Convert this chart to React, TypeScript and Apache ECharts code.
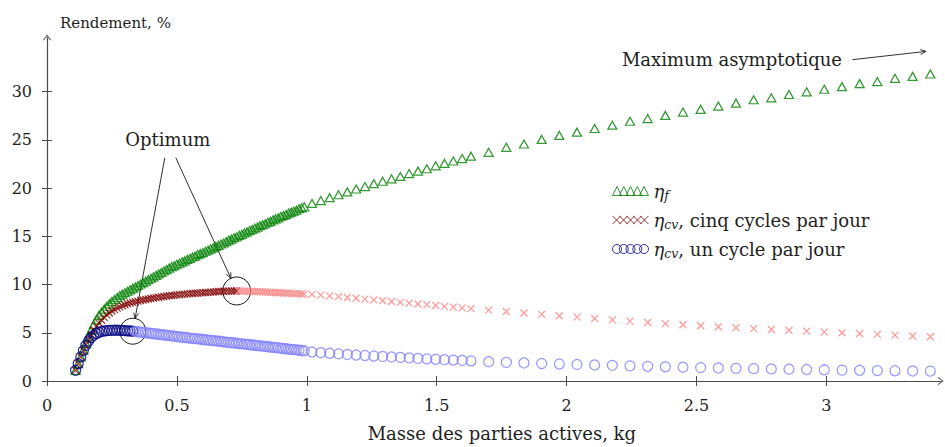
import React, { useEffect, useRef } from "react";
import * as echarts from "echarts";

// ---- Data ----
// Masse des parties actives, kg
const massDense = [
  0.11, 0.12, 0.13, 0.14, 0.15, 0.16, 0.17, 0.18, 0.19, 0.2,
  0.21, 0.22, 0.23, 0.24, 0.25, 0.26, 0.27, 0.28, 0.29, 0.3,
  0.31, 0.32, 0.33, 0.34, 0.35, 0.36, 0.37, 0.38, 0.39, 0.4,
  0.41, 0.42, 0.43, 0.44, 0.45, 0.46, 0.47, 0.48, 0.49, 0.5,
  0.51, 0.52, 0.53, 0.54, 0.55, 0.56, 0.57, 0.58, 0.59, 0.6,
  0.61, 0.62, 0.63, 0.64, 0.65, 0.66, 0.67, 0.68, 0.69, 0.7,
  0.71, 0.72, 0.73, 0.74, 0.75, 0.76, 0.77, 0.78, 0.79, 0.8,
  0.81, 0.82, 0.83, 0.84, 0.85, 0.86, 0.87, 0.88, 0.89, 0.9,
  0.91, 0.92, 0.93, 0.94, 0.95, 0.96, 0.97, 0.98, 0.99,
];
const massMid = [
  1.02, 1.054, 1.088, 1.122, 1.156, 1.19, 1.224, 1.258, 1.292, 1.326,
  1.36, 1.394, 1.428, 1.462, 1.496, 1.53, 1.564, 1.598, 1.632,
];
const massSparse = [
  1.7, 1.768, 1.836, 1.904, 1.972, 2.04, 2.108, 2.176, 2.244, 2.312,
  2.38, 2.448, 2.516, 2.584, 2.652, 2.72, 2.788, 2.856, 2.924, 2.992,
  3.06, 3.128, 3.196, 3.264, 3.332, 3.4,
];

// eta_f, %
const etaFDense = [
  1.1, 1.8, 2.5, 3.2, 3.9, 4.6, 5.25, 5.85, 6.35, 6.8,
  7.15, 7.45, 7.75, 8.0, 8.25, 8.45, 8.65, 8.85, 9.0, 9.15,
  9.3, 9.45, 9.6, 9.75, 9.9, 10.05, 10.2, 10.35, 10.5, 10.65,
  10.8, 10.95, 11.1, 11.25, 11.4, 11.55, 11.7, 11.85, 11.95, 12.1,
  12.2, 12.35, 12.45, 12.6, 12.7, 12.85, 12.95, 13.1, 13.2, 13.3,
  13.45, 13.55, 13.7, 13.8, 13.95, 14.05, 14.2, 14.3, 14.45, 14.6,
  14.7, 14.85, 14.95, 15.1, 15.2, 15.35, 15.45, 15.6, 15.7, 15.85,
  15.95, 16.1, 16.2, 16.3, 16.45, 16.55, 16.7, 16.8, 16.9, 17.05,
  17.15, 17.25, 17.4, 17.5, 17.6, 17.7, 17.85, 17.95, 18.05,
];
const etaFMid = [
  18.4, 18.7, 19.0, 19.3, 19.6, 19.9, 20.15, 20.45, 20.7, 20.95,
  21.2, 21.5, 21.75, 22.0, 22.3, 22.55, 22.8, 23.05, 23.3,
];
const etaFSparse = [
  23.7, 24.22, 24.56, 25.04, 25.45, 25.79, 26.17, 26.51, 26.92, 27.2,
  27.53, 27.87, 28.15, 28.49, 28.8, 29.15, 29.35, 29.69, 29.97, 30.24,
  30.51, 30.82, 31.03, 31.37, 31.57, 31.82,
];

// eta_cv, cinq cycles par jour, %
const etaCv5Dense = [
  1.1, 1.8, 2.5, 3.15, 3.75, 4.3, 4.8, 5.25, 5.65, 6.0,
  6.3, 6.6, 6.85, 7.05, 7.25, 7.4, 7.55, 7.68, 7.8, 7.9,
  8.0, 8.08, 8.15, 8.22, 8.28, 8.34, 8.4, 8.45, 8.5, 8.55,
  8.6, 8.64, 8.68, 8.72, 8.76, 8.8, 8.83, 8.86, 8.89, 8.92,
  8.95, 8.98, 9.0, 9.03, 9.05, 9.07, 9.09, 9.11, 9.13, 9.15,
  9.17, 9.19, 9.21, 9.23, 9.25, 9.27, 9.29, 9.3, 9.31, 9.32,
  9.33, 9.33, 9.33, 9.33, 9.32, 9.31, 9.3, 9.29, 9.28, 9.27,
  9.26, 9.25, 9.24, 9.22, 9.21, 9.2, 9.18, 9.17, 9.15, 9.14,
  9.12, 9.11, 9.09, 9.08, 9.06, 9.05, 9.03, 9.02, 9.0,
];
const etaCv5Mid = [
  8.98, 8.9, 8.82, 8.74, 8.66, 8.58, 8.49, 8.41, 8.32, 8.24,
  8.15, 8.07, 7.98, 7.91, 7.83, 7.74, 7.66, 7.58, 7.5,
];
const etaCv5Sparse = [
  7.35, 7.2, 7.05, 6.9, 6.76, 6.62, 6.48, 6.34, 6.2, 6.06,
  5.95, 5.83, 5.72, 5.62, 5.52, 5.43, 5.34, 5.26, 5.17, 5.09,
  5.0, 4.92, 4.83, 4.75, 4.67, 4.59,
];

// eta_cv, un cycle par jour, %
const etaCv1Dense = [
  1.1, 1.8, 2.5, 3.15, 3.7, 4.15, 4.5, 4.75, 4.92, 5.05,
  5.13, 5.18, 5.22, 5.24, 5.25, 5.26, 5.26, 5.25, 5.24, 5.22,
  5.2, 5.18, 5.16, 5.13, 5.1, 5.07, 5.04, 5.0, 4.97, 4.94,
  4.9, 4.87, 4.84, 4.8, 4.77, 4.74, 4.7, 4.67, 4.64, 4.6,
  4.57, 4.54, 4.51, 4.48, 4.45, 4.42, 4.39, 4.36, 4.33, 4.3,
  4.27, 4.24, 4.21, 4.18, 4.15, 4.12, 4.09, 4.06, 4.03, 4.0,
  3.97, 3.94, 3.91, 3.88, 3.85, 3.82, 3.79, 3.76, 3.73, 3.7,
  3.67, 3.64, 3.61, 3.58, 3.55, 3.52, 3.49, 3.46, 3.43, 3.4,
  3.37, 3.34, 3.31, 3.28, 3.25, 3.22, 3.19, 3.16, 3.13,
];
const etaCv1Mid = [
  3.0, 2.93, 2.87, 2.81, 2.75, 2.69, 2.64, 2.59, 2.54, 2.49,
  2.44, 2.39, 2.34, 2.29, 2.25, 2.21, 2.17, 2.13, 2.09,
];
const etaCv1Sparse = [
  2.0, 1.93, 1.87, 1.81, 1.76, 1.71, 1.66, 1.62, 1.57, 1.52,
  1.47, 1.43, 1.39, 1.35, 1.31, 1.28, 1.25, 1.22, 1.19, 1.16,
  1.13, 1.11, 1.08, 1.06, 1.04, 1.02,
];

// Optimum masses (end of the dark part of each η_cv series)
const optimumCv5Mass = 0.73;
const optimumCv1Mass = 0.33;

// Axis ticks
const xTicks = [0, 0.5, 1, 1.5, 2, 2.5, 3];
const yTicks = [0, 5, 10, 15, 20, 25, 30];

// Annotation anchors (data coordinates)
const optimumLabelAt = [0.465, 25.0];
const asymptoteLabelAt = [2.213, 33.3];
const asymptoteArrowFrom = [3.1, 33.3];
const asymptoteArrowTo = [3.383, 34.16];

const FONT = "DejaVu Serif, Liberation Serif, serif";
const TXT = "#1e1e1e";
const AXIS = "#4a4a4a";

const GREEN = "#008000";
const RED_DARK = "#800000";
const RED_LIGHT = "#ff8080";
const BLUE_DARK = "#000080";
const BLUE_LIGHT = "#8080ff";
const MARK_W = 1.25;

const crossPath = "path://M0,0L8,8M8,0L0,8";
const arrowPath = "path://M0,5.4L4,0L8,5.4L7.2,5.9L4,1.5L0.8,5.9Z";

function iconTriangles() {
  let d = "";
  for (let i = 0; i < 5; i++) {
    const o = i * 6.75;
    d += `M${o},9L${o + 4.5},0L${o + 9},9Z`;
  }
  return "path://" + d;
}
function iconCrosses() {
  let d = "";
  for (let i = 0; i < 5; i++) {
    const o = i * 6.75;
    d += `M${o + 0.5},0.5L${o + 8.5},8.5M${o + 8.5},0.5L${o + 0.5},8.5`;
  }
  return "path://" + d;
}
function iconCircles() {
  let d = "";
  for (let i = 0; i < 5; i++) {
    const o = i * 6.75;
    d += `M${o},4.5A4.5,4.5 0 1,0 ${o + 9},4.5A4.5,4.5 0 1,0 ${o},4.5Z`;
  }
  return "path://" + d;
}

export default function App() {
  const ref = useRef<HTMLDivElement>(null);

  useEffect(() => {
    const chart = echarts.init(ref.current as HTMLDivElement, null, { renderer: "svg" });

    const mass = [...massDense, ...massMid, ...massSparse];
    const etaF = [...etaFDense, ...etaFMid, ...etaFSparse];
    const etaCv5 = [...etaCv5Dense, ...etaCv5Mid, ...etaCv5Sparse];
    const etaCv1 = [...etaCv1Dense, ...etaCv1Mid, ...etaCv1Sparse];

    const pts = (ys: number[]) => mass.map((x, i) => [x, ys[i]]);
    const green = pts(etaF);
    const red = pts(etaCv5);
    const blue = pts(etaCv1);
    const eps = 1e-9;
    const redDark = red.filter((p) => p[0] <= optimumCv5Mass + eps);
    const redLight = red.filter((p) => p[0] > optimumCv5Mass + eps);
    const blueDark = blue.filter((p) => p[0] <= optimumCv1Mass + eps);
    const blueLight = blue.filter((p) => p[0] > optimumCv1Mass + eps);

    const labels: Record<string, string> = {
      eta_f: "{e|η}{s|f}",
      eta_cv5: "{e|η}{s|cv}{t|, cinq cycles par jour}",
      eta_cv1: "{e|η}{s|cv}{t|, un cycle par jour}",
    };

    const baseX = {
      type: "value",
      min: 0,
      max: 3.44,
      interval: 0.5,
      position: "bottom",
      splitLine: { show: false },
    };
    const baseY = {
      type: "value",
      min: 0,
      max: 35.6,
      interval: 5,
      position: "left",
      splitLine: { show: false },
    };

    const option: any = {
      animation: false,
      textStyle: { fontFamily: FONT },
      grid: { left: 47, right: 4.3, top: 37.5, bottom: 63, containLabel: false },
      xAxis: [
        {
          ...baseX,
          name: "Masse des parties actives, kg",
          nameLocation: "middle",
          nameGap: 43,
          nameTextStyle: { fontFamily: FONT, fontSize: 18, color: TXT, padding: [0, 0, 0, 16] },
          axisLine: {
            show: true,
            symbol: ["none", arrowPath],
            symbolSize: [8, 6],
            lineStyle: { color: AXIS, width: 1.2 },
          },
          axisTick: { show: true, inside: false, length: 5, customValues: xTicks, lineStyle: { color: AXIS, width: 1 } },
          axisLabel: {
            show: true,
            customValues: xTicks,
            margin: 16,
            fontFamily: FONT,
            fontSize: 16,
            color: TXT,
          },
        },
        {
          ...baseX,
          axisLine: { show: false },
          axisTick: { show: true, inside: true, length: 5, customValues: xTicks, lineStyle: { color: AXIS, width: 1 } },
          axisLabel: { show: false },
        },
      ],
      yAxis: [
        {
          ...baseY,
          name: "Rendement, %",
          nameLocation: "end",
          nameGap: 15,
          nameTextStyle: {
            fontFamily: FONT,
            fontSize: 15,
            color: TXT,
            align: "left",
            verticalAlign: "middle",
            padding: [0, 0, 0, 13],
          },
          axisLine: {
            show: true,
            symbol: ["none", arrowPath],
            symbolSize: [8, 6],
            lineStyle: { color: AXIS, width: 1.2 },
          },
          axisTick: { show: true, inside: false, length: 5, customValues: yTicks, lineStyle: { color: AXIS, width: 1 } },
          axisLabel: {
            show: true,
            customValues: yTicks,
            margin: 15,
            fontFamily: FONT,
            fontSize: 16,
            color: TXT,
          },
        },
        {
          ...baseY,
          axisLine: { show: false },
          axisTick: { show: true, inside: true, length: 5, customValues: yTicks, lineStyle: { color: AXIS, width: 1 } },
          axisLabel: { show: false },
        },
      ],
      legend: {
        show: true,
        orient: "vertical",
        left: 612,
        top: 182,
        padding: 0,
        itemWidth: 36,
        itemHeight: 9,
        itemGap: 9,
        selectedMode: false,
        formatter: (name: string) => labels[name] || name,
        textStyle: {
          fontFamily: FONT,
          fontSize: 18,
          color: TXT,
          rich: {
            e: { fontFamily: FONT, fontStyle: "italic", fontSize: 18, lineHeight: 22, color: TXT },
            s: {
              fontFamily: FONT,
              fontStyle: "italic",
              fontSize: 12.5,
              lineHeight: 13,
              verticalAlign: "bottom",
              color: TXT,
            },
            t: { fontFamily: FONT, fontSize: 18, lineHeight: 22, color: TXT },
          },
        },
        data: [
          {
            name: "eta_f",
            icon: iconTriangles(),
            itemStyle: { color: "rgba(0,0,0,0)", borderColor: GREEN, borderWidth: 1 },
          },
          {
            name: "eta_cv5",
            icon: iconCrosses(),
            itemStyle: { color: "rgba(0,0,0,0)", borderColor: RED_DARK, borderWidth: 1 },
          },
          {
            name: "eta_cv1",
            icon: iconCircles(),
            itemStyle: { color: "rgba(0,0,0,0)", borderColor: BLUE_DARK, borderWidth: 1 },
          },
        ],
      },
      series: [
        {
          name: "eta_f",
          type: "scatter",
          xAxisIndex: 0,
          yAxisIndex: 0,
          data: green,
          symbol: "triangle",
          symbolSize: [9, 8],
          silent: true,
          itemStyle: { color: "rgba(0,0,0,0)", borderColor: GREEN, borderWidth: MARK_W },
        },
        {
          name: "eta_cv5",
          type: "scatter",
          data: redDark,
          symbol: crossPath,
          symbolSize: 7,
          silent: true,
          itemStyle: { color: "rgba(0,0,0,0)", borderColor: RED_DARK, borderWidth: MARK_W },
        },
        {
          name: "eta_cv5_suite",
          type: "scatter",
          data: redLight,
          symbol: crossPath,
          symbolSize: 7,
          silent: true,
          itemStyle: { color: "rgba(0,0,0,0)", borderColor: RED_LIGHT, borderWidth: MARK_W },
        },
        {
          name: "eta_cv1",
          type: "scatter",
          data: blueDark,
          symbol: "circle",
          symbolSize: 10,
          silent: true,
          itemStyle: { color: "rgba(0,0,0,0)", borderColor: BLUE_DARK, borderWidth: MARK_W },
        },
        {
          name: "eta_cv1_suite",
          type: "scatter",
          data: blueLight,
          symbol: "circle",
          symbolSize: 10,
          silent: true,
          itemStyle: { color: "rgba(0,0,0,0)", borderColor: BLUE_LIGHT, borderWidth: MARK_W },
        },
      ],
    };

    chart.setOption(option);

    // ---- Annotations, positioned through the chart's own scales ----
    const toPx = (p: number[]) => chart.convertToPixel({ seriesIndex: 0 }, p) as number[];
    const valueAt = (ys: number[], m: number) => {
      let best = 0;
      for (let i = 0; i < mass.length; i++) if (Math.abs(mass[i] - m) < Math.abs(mass[best] - m)) best = i;
      return [mass[best], ys[best]];
    };
    const cBlue = toPx(valueAt(etaCv1, optimumCv1Mass));
    const cRed = toPx(valueAt(etaCv5, optimumCv5Mass));
    const rBlue = 13;
    const rRed = 14;
    const lab = toPx(optimumLabelAt);
    const asyLab = toPx(asymptoteLabelAt);
    const asyFrom = toPx(asymptoteArrowFrom);
    const asyTo = toPx(asymptoteArrowTo);

    const INK = "#1a1a1a";
    const lineStyle = { stroke: INK, lineWidth: 0.9, fill: "none" };
    const arrowHead = (x1: number, y1: number, x2: number, y2: number) => {
      const a = Math.atan2(y2 - y1, x2 - x1);
      const len = 6;
      const ang = 0.42;
      return {
        type: "polyline",
        silent: true,
        shape: {
          points: [
            [x2 - len * Math.cos(a - ang), y2 - len * Math.sin(a - ang)],
            [x2, y2],
            [x2 - len * Math.cos(a + ang), y2 - len * Math.sin(a + ang)],
          ],
        },
        style: { ...lineStyle },
      };
    };
    const toCircle = (sx: number, sy: number, c: number[], r: number) => {
      const dx = sx - c[0];
      const dy = sy - c[1];
      const L = Math.hypot(dx, dy);
      return [c[0] + (r * dx) / L, c[1] + (r * dy) / L];
    };

    const s1 = [lab[0] - 3, lab[1] + 18];
    const s2 = [lab[0] + 8, lab[1] + 18];
    const e1 = toCircle(s1[0], s1[1], cBlue, rBlue);
    const e2 = toCircle(s2[0], s2[1], cRed, rRed);

    const graphic: any[] = [
      { type: "circle", silent: true, shape: { cx: cBlue[0], cy: cBlue[1], r: rBlue }, style: { ...lineStyle, lineWidth: 1 } },
      { type: "circle", silent: true, shape: { cx: cRed[0], cy: cRed[1], r: rRed }, style: { ...lineStyle, lineWidth: 1 } },
      {
        type: "text",
        silent: true,
        x: lab[0],
        y: lab[1],
        style: { text: "Optimum", font: "18px " + FONT, fill: TXT, align: "center", verticalAlign: "middle" },
      },
      { type: "line", silent: true, shape: { x1: s1[0], y1: s1[1], x2: e1[0], y2: e1[1] }, style: { ...lineStyle } },
      arrowHead(s1[0], s1[1], e1[0], e1[1]),
      { type: "line", silent: true, shape: { x1: s2[0], y1: s2[1], x2: e2[0], y2: e2[1] }, style: { ...lineStyle } },
      arrowHead(s2[0], s2[1], e2[0], e2[1]),
      {
        type: "text",
        silent: true,
        x: asyLab[0],
        y: asyLab[1],
        style: {
          text: "Maximum asymptotique",
          font: "18px " + FONT,
          fill: TXT,
          align: "left",
          verticalAlign: "middle",
        },
      },
      { type: "line", silent: true, shape: { x1: asyFrom[0], y1: asyFrom[1], x2: asyTo[0], y2: asyTo[1] }, style: { ...lineStyle } },
      arrowHead(asyFrom[0], asyFrom[1], asyTo[0], asyTo[1]),
    ];
    chart.setOption({ graphic });

    return () => chart.dispose();
  }, []);

  return <div ref={ref} style={{ position: "absolute", left: 0, top: 0, width: 945, height: 447 }} />;
}
